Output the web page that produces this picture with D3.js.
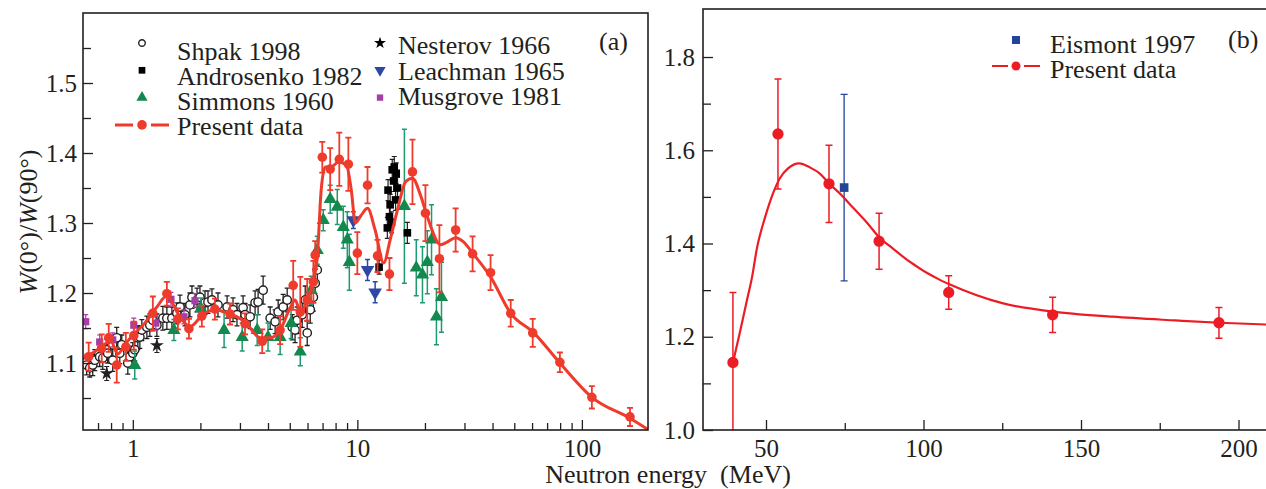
<!DOCTYPE html>
<html>
<head>
<meta charset="utf-8">
<script src="https://cdn.jsdelivr.net/npm/d3@7"></script>
<style>
body { margin: 0; background: #fff; }
svg text { font-family: "Liberation Serif", "Times New Roman", serif; fill: #231f20; }
</style>
</head>
<body>
<svg id="chart" width="1266" height="489"></svg>
<script>
// ---- panel (a) data: energy (MeV), W(0)/W(90), error ----
const shpakE = [0.623,0.643,0.663,0.677,0.712,0.735,0.765,0.773,0.814,0.848,0.875,0.893,0.95,0.97,1.0,1.02,1.053,1.075,1.097,1.155,1.191,1.228,1.28,1.361,1.418,1.493,1.571,1.622,1.707,1.796,1.834,1.932,1.991,2.096,2.162,2.252,2.395,2.63,2.794,2.91,3.098,3.162,3.33,3.504,3.614,3.805,4.09,4.305,4.44,4.674,4.87,5.13,5.28,5.4,5.68,5.86,5.98,6.17,6.37,6.49,6.63];
const shpakW = [1.097,1.093,1.097,1.104,1.109,1.107,1.119,1.114,1.104,1.136,1.114,1.126,1.10,1.109,1.114,1.119,1.136,1.137,1.147,1.151,1.154,1.161,1.154,1.164,1.164,1.164,1.171,1.18,1.169,1.183,1.194,1.19,1.194,1.186,1.187,1.19,1.183,1.18,1.176,1.169,1.179,1.169,1.166,1.186,1.187,1.204,1.164,1.159,1.173,1.18,1.19,1.151,1.147,1.161,1.169,1.19,1.143,1.176,1.194,1.214,1.233];
const shpakErr = [0.014,0.013,0.015,0.015,0.014,0.016,0.015,0.014,0.016,0.015,
                  0.015,0.014,0.016,0.015,0.015,0.016,0.017,0.016,0.015,0.016,
                  0.016,0.015,0.016,0.017,0.016,0.016,0.015,0.017,0.016,0.017,
                  0.016,0.017,0.016,0.017,0.016,0.016,0.017,0.016,0.017,0.016,
                  0.017,0.016,0.017,0.017,0.018,0.020,0.016,0.017,0.017,0.018,
                  0.017,0.018,0.018,0.019,0.018,0.020,0.018,0.019,0.020,0.020,
                  0.020];

const androE = [12.5,13.6,13.7,13.9,14.0,14.2,14.3,14.5,14.6,14.8,14.9,15.1,16.7];
const androW = [1.237,1.293,1.347,1.309,1.326,1.301,1.376,1.36,1.38,1.333,1.371,1.35,1.286];
const androErr = [0.01,0.015,0.015,0.015,0.015,0.015,0.015,0.015,0.015,0.015,0.015,0.015,0.015];

const simmE = [1.02,1.524,2.01,2.55,3.07,3.58,4.0,4.53,5.07,5.57,6.23,6.63,7.05,7.57,8.14,8.66,9.02,9.21,16.2,18.3,19.5,20.5,21.4,22.5,23.7];
const simmW = [1.097,1.147,1.178,1.147,1.137,1.147,1.137,1.137,1.157,1.116,1.204,1.261,1.304,1.334,1.323,1.294,1.276,1.244,1.324,1.236,1.226,1.244,1.276,1.166,1.194];
const simmErr = [0.02,0.015,0.015,0.025,0.02,0.022,0.02,0.025,0.022,0.02,0.02,0.02,0.015,0.02,0.025,0.03,0.04,0.04,0.11,0.04,0.04,0.045,0.05,0.04,0.05];

const nestE = [0.765,1.28];
const nestW = [1.085,1.125];
const nestErr = [0.01,0.01];

const leachE = [9.6,11.1,12.0];
const leachW = [1.304,1.233,1.201];
const leachErr = [0.012,0.015,0.015];

const musgE = [0.617,0.712,0.814,1.01,1.266,1.478,1.69,1.892];
const musgW = [1.159,1.13,1.133,1.154,1.157,1.191,1.166,1.189];
const musgErr = [0.01,0.01,0.01,0.01,0.01,0.01,0.01,0.01];

const presE = [0.636,0.727,0.781,0.848,0.931,1.01,1.228,1.418,1.588,1.778,2.03,2.32,2.71,3.16,3.77,4.53,5.18,5.57,5.98,6.37,6.49,6.98,7.57,8.31,9.12,10.0,11.1,12.3,13.9,17.6,20.1,23.2,27.4,32.6,39.2,48.2,60.4,79.8,110.8,163.8];
const presW = [1.109,1.121,1.136,1.097,1.123,1.139,1.171,1.199,1.163,1.149,1.167,1.177,1.170,1.156,1.131,1.147,1.211,1.173,1.19,1.216,1.254,1.394,1.377,1.391,1.384,1.257,1.354,1.253,1.227,1.373,1.314,1.249,1.29,1.256,1.229,1.171,1.143,1.101,1.051,1.023];
const presErr = [0.02,0.02,0.02,0.025,0.02,0.02,0.024,0.017,0.015,0.014,0.015,0.015,0.015,0.015,0.017,0.02,0.035,0.05,0.03,0.03,0.02,0.022,0.03,0.038,0.038,0.03,0.026,0.023,0.023,0.046,0.04,0.048,0.031,0.025,0.025,0.019,0.02,0.014,0.016,0.013];

// fitted curve through present data (a)
const fitAE = [0.598,0.676,0.75,0.798,0.857,0.931,1.01,1.13,1.28,1.418,1.588,1.80,2.05,2.32,2.71,3.16,3.69,4.09,4.53,5.02,5.29,5.57,5.98,6.37,6.63,6.9,7.19,7.65,8.23,8.93,9.4,9.8,10.4,11.1,12.0,13.1,14.0,15.1,16.4,17.6,19.1,20.5,23.5,25.2,27.4,29.7,32.6,39.2,48.2,61.1,79.8,110.8,163.8,199];
const fitAW = [1.106,1.116,1.127,1.131,1.113,1.128,1.141,1.157,1.18,1.196,1.171,1.152,1.169,1.176,1.170,1.159,1.136,1.136,1.147,1.179,1.19,1.173,1.19,1.219,1.251,1.347,1.38,1.38,1.387,1.383,1.347,1.30,1.311,1.321,1.29,1.243,1.276,1.319,1.359,1.364,1.34,1.309,1.269,1.273,1.279,1.273,1.257,1.223,1.171,1.143,1.10,1.051,1.021,1.004];

// ---- panel (b) data ----
const eisE = [74.8];
const eisW = [1.52];
const eisErr = [0.2];

const presBE = [39.5,53.8,70,85.9,108,141,193.8];
const presBW = [1.145,1.635,1.528,1.405,1.295,1.247,1.23];
const presBErr = [0.15,0.118,0.083,0.06,0.036,0.038,0.033];

const fitBE = [39.5,41.7,44,45.6,47.1,49.7,52.2,54.4,57,60.5,64,67.1,70,73.5,77.6,82,86,90.3,94.8,105.2,108.4,125,141,160,180,194,210];
const fitBW = [1.144,1.209,1.28,1.329,1.389,1.456,1.507,1.54,1.561,1.572,1.563,1.55,1.529,1.507,1.477,1.445,1.413,1.389,1.365,1.322,1.312,1.272,1.254,1.243,1.235,1.23,1.226];

// ---- ticks / labels ----
const aMajorX = [1, 10, 100];
const aMinorX = [0.7,0.8,0.9,2,3,4,5,6,7,8,9,20,30,40,50,60,70,80,90];
const aMajorY = [1.1,1.2,1.3,1.4,1.5];
const aMinorY = [1.05,1.15,1.25,1.35,1.45,1.55];
const bMajorX = [50,100,150,200];
const bMinorX = [75,125,175];
const bMajorY = [1.0,1.2,1.4,1.6,1.8];
const bMinorY = [1.1,1.3,1.5,1.7];
const legendA1 = ["Shpak 1998","Androsenko 1982","Simmons 1960","Present data"];
const legendA2 = ["Nesterov 1966","Leachman 1965","Musgrove 1981"];
const legendB = ["Eismont 1997","Present data"];

const C = {
    ink: "#231f20",
    redA: "#ef3b2c",
    redB: "#ec1c24",
    green: "#13894e",
    greenBar: "#1f9a70",
    blue: "#2d47a6",
    blueB: "#24449a",
    purple: "#a53ea6"
};

const svg = d3.select("#chart");

const ax = d3.scaleLog().domain([0.6, 197]).range([83, 648]);
const ay = d3.scaleLinear().domain([1.0043, 1.6]).range([430, 13]);
const bx = d3.scaleLinear().domain([30, 210]).range([703, 1270]);
const by = d3.scaleLinear().domain([1.0, 1.903]).range([430, 9]);

const zip = (xs, ys, es) => xs.map((e, i) => ({ e, w: ys[i], err: es ? es[i] : 0 }));

// clip paths
const defs = svg.append("defs");
defs.append("clipPath").attr("id", "clipA").append("rect")
    .attr("x", 83).attr("y", 13).attr("width", 565).attr("height", 417);
defs.append("clipPath").attr("id", "clipB").append("rect")
    .attr("x", 703).attr("y", 9).attr("width", 570).attr("height", 421);

function drawAxes(x, y, o) {
    const [x0, x1] = x.range();
    const [y0, y1] = y.range();
    const g = svg.append("g");
    const style = sel => {
        sel.select(".domain").remove();
        sel.selectAll("line").attr("stroke", C.ink).attr("stroke-width", 1.3);
        sel.selectAll("text").attr("font-size", 25).attr("fill", C.ink)
            .style("font-family", '"Liberation Serif", "Times New Roman", serif');
    };
    g.append("g").attr("transform", `translate(0,${y0})`)
        .call(d3.axisBottom(x).tickValues(o.majX).tickSize(-10).tickPadding(9).tickFormat(o.fmtX))
        .call(style);
    g.append("g").attr("transform", `translate(0,${y0})`)
        .call(d3.axisBottom(x).tickValues(o.minX).tickSize(-7).tickFormat(""))
        .call(style);
    g.append("g").attr("transform", `translate(${x0},0)`)
        .call(d3.axisLeft(y).tickValues(o.majY).tickSize(-10).tickPadding(o.padY).tickFormat(d3.format(".1f")))
        .call(style);
    g.append("g").attr("transform", `translate(${x0},0)`)
        .call(d3.axisLeft(y).tickValues(o.minY).tickSize(-8).tickFormat(""))
        .call(style);
    g.append("rect")
        .attr("x", x0).attr("y", y1).attr("width", x1 - x0).attr("height", y0 - y1)
        .attr("fill", "none").attr("stroke", C.ink).attr("stroke-width", 1.6);
}

function errorBars(g, data, x, y, color, width, cap) {
    g.append("g").selectAll("path").data(data).enter().append("path")
        .attr("d", p => {
            const cx = x(p.e), t = y(p.w + p.err), b = y(p.w - p.err);
            return `M${cx},${t}V${b}M${cx - cap},${t}H${cx + cap}M${cx - cap},${b}H${cx + cap}`;
        })
        .attr("fill", "none").attr("stroke", color).attr("stroke-width", width);
}

function symbols(g, data, x, y, type, size, fill, stroke, rot) {
    g.append("g").selectAll("path").data(data).enter().append("path")
        .attr("d", d3.symbol().type(type).size(size))
        .attr("transform", p => `translate(${x(p.e)},${y(p.w)})${rot ? " rotate(180)" : ""}`)
        .attr("fill", fill)
        .attr("stroke", stroke || "none")
        .attr("stroke-width", stroke ? 1.4 : 0);
}

// ================= panel (a) =================
const gA = svg.append("g").attr("clip-path", "url(#clipA)");

const shpak = zip(shpakE, shpakW, shpakErr);
errorBars(gA, shpak, ax, ay, C.ink, 1.3, 2.5);
symbols(gA, shpak, ax, ay, d3.symbolCircle, 55, "#fff", C.ink);

const musg = zip(musgE, musgW, musgErr);
errorBars(gA, musg, ax, ay, C.purple, 1.2, 2.5);
symbols(gA, musg, ax, ay, d3.symbolSquare, 52, C.purple);

const nest = zip(nestE, nestW, nestErr);
errorBars(gA, nest, ax, ay, C.ink, 1.2, 2.5);
symbols(gA, nest, ax, ay, d3.symbolStar, 60, C.ink);

const simm = zip(simmE, simmW, simmErr);
errorBars(gA, simm, ax, ay, C.greenBar, 1.5, 2.5);
symbols(gA, simm, ax, ay, d3.symbolTriangle, 75, C.green);

const andro = zip(androE, androW, androErr);
errorBars(gA, andro, ax, ay, C.ink, 1.2, 2.5);
symbols(gA, andro, ax, ay, d3.symbolSquare, 58, "#000");

const leach = zip(leachE, leachW, leachErr);
errorBars(gA, leach, ax, ay, C.blue, 1.5, 2.5);
symbols(gA, leach, ax, ay, d3.symbolTriangle, 80, C.blue, null, true);

const pres = zip(presE, presW, presErr);
errorBars(gA, pres, ax, ay, C.redA, 1.8, 3);
gA.append("path")
    .datum(zip(fitAE, fitAW))
    .attr("fill", "none").attr("stroke", C.redA).attr("stroke-width", 3)
    .attr("d", d3.line().x(p => ax(p.e)).y(p => ay(p.w)).curve(d3.curveMonotoneX));
symbols(gA, pres, ax, ay, d3.symbolCircle, 72, C.redA);

drawAxes(ax, ay, {
    majX: aMajorX, minX: aMinorX, majY: aMajorY, minY: aMinorY,
    fmtX: d3.format("d"), padY: 6
});

// legend (a)
const legA = svg.append("g").attr("font-size", 26);
const rowM = i => 43 + i * 27.3;
legendA1.forEach((t, i) => {
    legA.append("text").attr("x", 177).attr("y", 59.5 + i * 25).text(t);
});
legendA2.forEach((t, i) => {
    legA.append("text").attr("x", 398).attr("y", 54 + i * 25.5).text(t);
});
legA.append("path").attr("d", d3.symbol().type(d3.symbolCircle).size(34)())
    .attr("transform", `translate(142,${rowM(0)})`).attr("fill", "#fff").attr("stroke", C.ink).attr("stroke-width", 1.4);
legA.append("path").attr("d", d3.symbol().type(d3.symbolSquare).size(45)())
    .attr("transform", `translate(142,${rowM(1)})`).attr("fill", "#000");
legA.append("path").attr("d", d3.symbol().type(d3.symbolTriangle).size(55)())
    .attr("transform", `translate(142,${rowM(2)})`).attr("fill", C.green);
legA.append("path").attr("d", "M115,0H133M151,0H169")
    .attr("transform", `translate(0,${rowM(3)})`).attr("stroke", C.redA).attr("stroke-width", 3);
legA.append("circle").attr("cx", 142).attr("cy", rowM(3)).attr("r", 4.8).attr("fill", C.redA);
legA.append("path").attr("d", d3.symbol().type(d3.symbolStar).size(45)())
    .attr("transform", `translate(380,${rowM(0)})`).attr("fill", "#000");
legA.append("path").attr("d", d3.symbol().type(d3.symbolTriangle).size(55)())
    .attr("transform", `translate(380,${rowM(1)}) rotate(180)`).attr("fill", C.blue);
legA.append("path").attr("d", d3.symbol().type(d3.symbolSquare).size(40)())
    .attr("transform", `translate(380,${rowM(2)})`).attr("fill", C.purple);
svg.append("text").attr("x", 599).attr("y", 50).attr("font-size", 26).text("(a)");

// ================= panel (b) =================
const gB = svg.append("g").attr("clip-path", "url(#clipB)");

const eis = zip(eisE, eisW, eisErr);
errorBars(gB, eis, bx, by, C.blueB, 1.3, 3.5);
symbols(gB, eis, bx, by, d3.symbolSquare, 75, C.blueB);

const presB = zip(presBE, presBW, presBErr);
errorBars(gB, presB, bx, by, C.redB, 1.5, 3.5);
gB.append("path")
    .datum(zip(fitBE, fitBW))
    .attr("fill", "none").attr("stroke", C.redB).attr("stroke-width", 2.2)
    .attr("d", d3.line().x(p => bx(p.e)).y(p => by(p.w)).curve(d3.curveMonotoneX));
symbols(gB, presB, bx, by, d3.symbolCircle, 100, C.redB);

drawAxes(bx, by, {
    majX: bMajorX, minX: bMinorX, majY: bMajorY, minY: bMinorY,
    fmtX: d3.format("d"), padY: 8
});

// legend (b)
const legB = svg.append("g").attr("font-size", 26);
legB.append("text").attr("x", 1050).attr("y", 52.5).text(legendB[0]);
legB.append("text").attr("x", 1050).attr("y", 77.5).text(legendB[1]);
legB.append("rect").attr("x", 1012).attr("y", 36).attr("width", 8).attr("height", 8).attr("fill", C.blueB);
legB.append("path").attr("d", "M992,66H1008M1024,66H1040").attr("stroke", C.redB).attr("stroke-width", 2.2);
legB.append("circle").attr("cx", 1016).attr("cy", 66).attr("r", 4.5).attr("fill", C.redB);
svg.append("text").attr("x", 1228).attr("y", 48).attr("font-size", 26).text("(b)");

// ================= shared axis titles =================
svg.append("text")
    .attr("x", 668).attr("y", 483)
    .attr("text-anchor", "middle").attr("font-size", 26)
    .style("white-space", "pre")
    .text("Neutron energy  (MeV)");

const yl = svg.append("text")
    .attr("transform", "translate(37,222) rotate(-90)")
    .attr("text-anchor", "middle").attr("font-size", 26);
yl.append("tspan").attr("font-style", "italic").text("W");
yl.append("tspan").text("(0°)/");
yl.append("tspan").attr("font-style", "italic").text("W");
yl.append("tspan").text("(90°)");
</script>
</body>
</html>
